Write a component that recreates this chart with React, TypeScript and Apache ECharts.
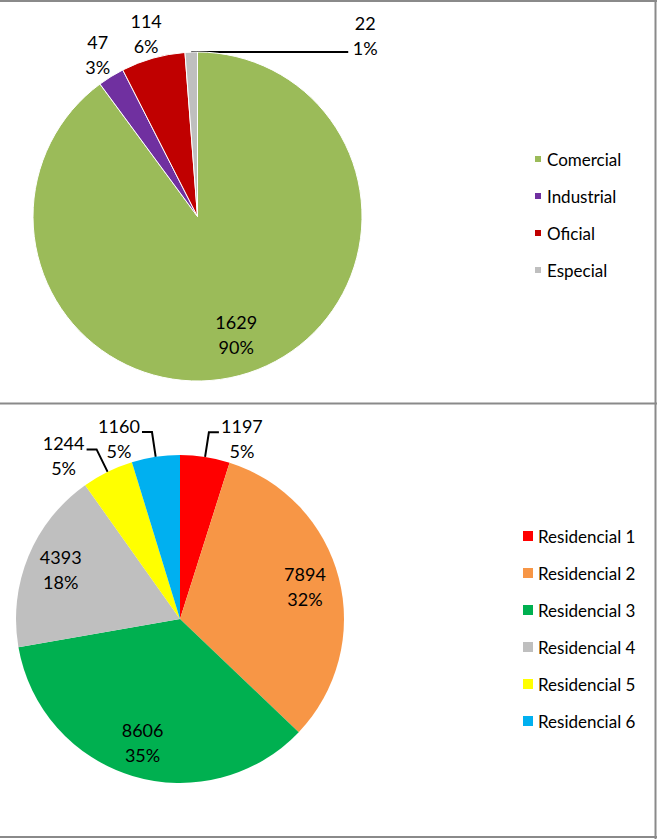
import React, { useEffect, useRef } from "react";
import * as echarts from "echarts";

// ---- data ----
const topNames = ["Comercial", "Industrial", "Oficial", "Especial"];
const topValues = [1629, 47, 114, 22];
const topColors = ["#9BBB59", "#7030A0", "#C00000", "#BFBFBF"];
// how each slice's label is placed: inside, near (outside, no line), leader (with line)
const topLabelPlace = ["inside", "near", "near", "leader"];

const bottomNames = [
  "Residencial 1",
  "Residencial 2",
  "Residencial 3",
  "Residencial 4",
  "Residencial 5",
  "Residencial 6",
];
const bottomValues = [1197, 7894, 8606, 4393, 1244, 1160];
const bottomColors = ["#FF0000", "#F79646", "#00B050", "#BFBFBF", "#FFFF00", "#00B0F0"];
const bottomLabelPlace = ["leader", "inside", "inside", "inside", "leader", "leader"];

const FONT = "Lato";
const TRANSPARENT = "rgba(0,0,0,0)";

const labelText = {
  fontFamily: FONT,
  fontSize: 18,
  lineHeight: 25,
  color: "#000",
};

function buildData(
  names: string[],
  values: number[],
  colors: string[] | null,
  places: string[],
  want: string
) {
  return names.map((name, i) => ({
    name,
    value: values[i],
    itemStyle: { color: colors ? colors[i] : TRANSPARENT },
    label: { show: places[i] === want },
    labelLine: { show: places[i] === want && want === "leader" },
  }));
}

export default function App() {
  const ref = useRef<HTMLDivElement>(null);

  useEffect(() => {
    if (!ref.current) return;
    const chart = echarts.init(ref.current, null, { renderer: "svg" });

    const topCenter = [197.5, 216.5];
    const topR = 164.5;
    const botCenter = [180, 619];
    const botR = 164;

    const overlayBase = {
      type: "pie",
      startAngle: 90,
      clockwise: true,
      silent: true,
      avoidLabelOverlap: false,
      percentPrecision: 0,
      emphasis: { disabled: true },
      itemStyle: { color: TRANSPARENT, borderWidth: 0 },
      labelLine: { show: false },
    };

    const option: any = {
      animation: false,
      backgroundColor: "#fff",
      legend: [
        {
          data: topNames,
          orient: "vertical",
          left: 533,
          top: 150,
          padding: 0,
          itemWidth: 8,
          itemHeight: 8,
          itemGap: 19,
          icon: "rect",
          selectedMode: false,
          textStyle: { fontFamily: FONT, fontSize: 17, lineHeight: 18, color: "#000" },
        },
        {
          data: bottomNames,
          orient: "vertical",
          left: 523,
          top: 527,
          padding: 0,
          itemWidth: 10,
          itemHeight: 10,
          itemGap: 19,
          icon: "rect",
          selectedMode: false,
          textStyle: { fontFamily: FONT, fontSize: 17, lineHeight: 18, color: "#000" },
        },
      ],
      series: [
        // top pie, main
        {
          type: "pie",
          center: topCenter,
          radius: [0, topR],
          startAngle: 90,
          clockwise: true,
          avoidLabelOverlap: false,
          percentPrecision: 0,
          emphasis: { disabled: true },
          itemStyle: { borderColor: "#fff", borderWidth: 1 },
          label: {
            position: "outside",
            formatter: "{c}\n{d}%",
            align: "center",
            ...labelText,
          },
          labelLine: {
            length: 10,
            length2: 10,
            lineStyle: { color: "#000", width: 2 },
          },
          labelLayout: (params: any) => {
            const pts = params.labelLinePoints;
            if (!pts || !pts.length) return {};
            const x1 = pts[0][0];
            const y1 = pts[0][1];
            return {
              x: x1 + 174,
              y: y1 - 17,
              align: "center",
              verticalAlign: "middle",
              labelLinePoints: [
                [x1, y1],
                [x1 + 157, y1],
                [x1 + 157, y1],
              ],
            };
          },
          data: buildData(topNames, topValues, topColors, topLabelPlace, "leader"),
        },
        // top pie, labels just outside (no lines)
        {
          ...overlayBase,
          center: topCenter,
          radius: [172, 202],
          label: { position: "inside", formatter: "{c}\n{d}%", ...labelText },
          data: buildData(topNames, topValues, null, topLabelPlace, "near"),
        },
        // top pie, inside labels
        {
          ...overlayBase,
          center: topCenter,
          radius: [96, 146],
          label: { position: "inside", formatter: "{c}\n{d}%", ...labelText },
          data: buildData(topNames, topValues, null, topLabelPlace, "inside"),
        },
        // bottom pie, main
        {
          type: "pie",
          center: botCenter,
          radius: [0, botR],
          startAngle: 90,
          clockwise: true,
          avoidLabelOverlap: false,
          percentPrecision: 0,
          emphasis: { disabled: true },
          itemStyle: { borderWidth: 0 },
          label: {
            position: "outside",
            formatter: "{a|{c}}\n{a|{d}%}",
            distanceToLabelLine: 2,
            padding: [12, 0, 0, 0],
            rich: {
              a: { ...labelText, width: 42, align: "center" },
            },
          },
          labelLine: {
            length: 25,
            length2: 10,
            lineStyle: { color: "#000", width: 2 },
          },
          data: buildData(bottomNames, bottomValues, bottomColors, bottomLabelPlace, "leader"),
        },
        // bottom pie, inside labels
        {
          ...overlayBase,
          center: botCenter,
          radius: [101, 151],
          label: { position: "inside", formatter: "{c}\n{d}%", ...labelText },
          data: buildData(bottomNames, bottomValues, null, bottomLabelPlace, "inside"),
        },
      ],
      graphic: [
        { type: "line", shape: { x1: 0, y1: 1, x2: 657, y2: 1 }, style: { stroke: "#8a8a8a", lineWidth: 2 } },
        { type: "line", shape: { x1: 0, y1: 403.5, x2: 657, y2: 403.5 }, style: { stroke: "#8a8a8a", lineWidth: 2 } },
        { type: "line", shape: { x1: 0, y1: 837, x2: 657, y2: 837 }, style: { stroke: "#8a8a8a", lineWidth: 2 } },
        { type: "line", shape: { x1: 655.5, y1: 0, x2: 655.5, y2: 839 }, style: { stroke: "#8a8a8a", lineWidth: 2 } },
      ],
    };

    chart.setOption(option);
    return () => chart.dispose();
  }, []);

  return (
    <div
      ref={ref}
      style={{ position: "fixed", left: 0, top: 0, width: 657, height: 839, background: "#fff" }}
    />
  );
}
